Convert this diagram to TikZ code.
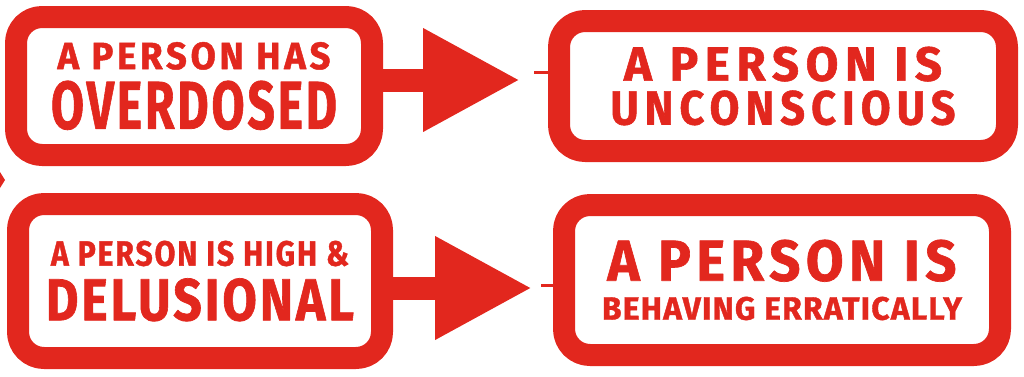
\documentclass[tikz,border=0pt]{standalone}
\usepackage{fontspec}
\usepackage{graphicx}
\usepackage{tikz}
\usetikzlibrary{positioning,arrows.meta,calc}
\newfontfamily\signfont{Fira Sans}[FakeBold=1.2]
\definecolor{alertred}{RGB}{226,39,30}
\newdimen\pxu \pxu=0.02cm
% one line of sign text, stretched to a given width and cap height
\newcommand\fitline[4][6]{\resizebox{#2\pxu}{#3\pxu}{\addfontfeatures{LetterSpace=#1}#4}}
% two centred lines with a fixed gap
\newcommand\twolines[3]{\vbox{\offinterlineskip\halign{\hfil##\hfil\cr #1\cr\noalign{\vskip#3\pxu}#2\cr}}}
\tikzset{
  signbox/.style={draw=alertred, line width=22\pxu, rounded corners=26\pxu, inner sep=0pt,
                  line join=round, text=alertred, font=\signfont\bfseries},
  flow/.style={alertred, line width=23\pxu, -{Triangle[length=1.94cm, width=1.94cm]}},
  tick/.style={alertred, line width=3\pxu}
}

\begin{document}
\begin{tikzpicture}[x=0.02cm, y=-0.02cm]
  \useasboundingbox (0,0) rectangle (1024,376);
  \node[signbox, minimum width=356\pxu, minimum height=138\pxu] (overdosed) at (194,86)
    {\twolines{\fitline[10]{273}{27}{A PERSON HAS}}{\fitline{286}{48}{OVERDOSED}}{11}};
  \node[signbox, minimum width=448\pxu, minimum height=130\pxu] (unconscious) at (783,86)
    {\twolines{\fitline[14]{318}{34}{A PERSON IS}}{\fitline[14]{345}{34}{UNCONSCIOUS}}{9}};
  \node[signbox, minimum width=364\pxu, minimum height=154\pxu] (delusional) at (200,281)
    {\twolines{\fitline{298}{25}{A PERSON IS HIGH \&}}{\fitline{308}{42}{DELUSIONAL}}{12}};
  \node[signbox, minimum width=436\pxu, minimum height=150\pxu] (erratic) at (782,280)
    {\twolines{\fitline[10]{349}{41}{A PERSON IS}}{\fitline[4]{360}{23}{BEHAVING ERRATICALLY}}{15}};

  \coordinate (tipA) at (520,80);
  \coordinate (tipB) at (532,288);
  \draw[flow] (overdosed.east |- tipA) -- (tipA);
  \draw[flow] (delusional.east |- tipB) -- (tipB);
  \draw[tick] (534,72) -- (unconscious.west |- 0,72);
  \draw[tick] (541,285) -- (erratic.west |- 0,285);
  % stray mark at the left edge
  \fill[alertred] (0,172) -- (5,180) -- (0,188) -- cycle;
\end{tikzpicture}
\end{document}
